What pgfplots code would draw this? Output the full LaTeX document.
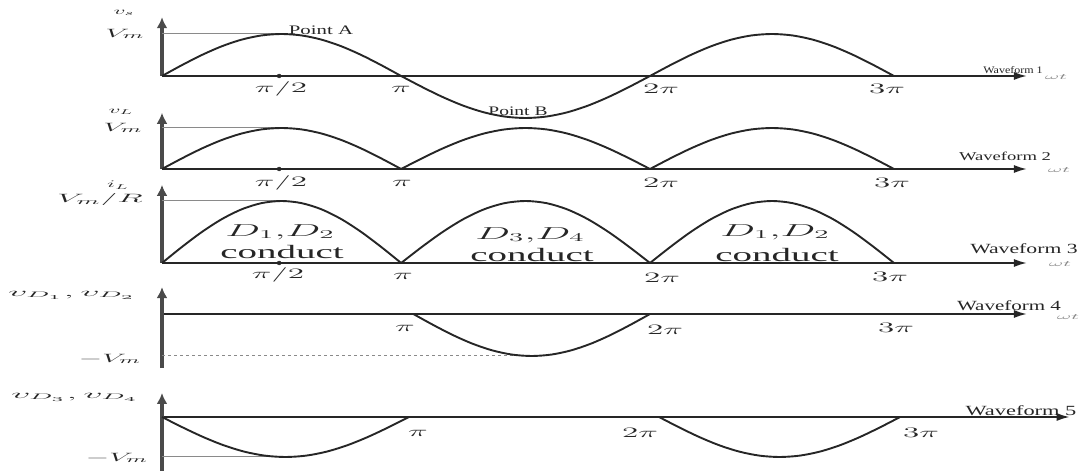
\documentclass[border=0pt]{standalone}
\usepackage{pgfplots}
\pgfplotsset{compat=1.18}
\usepackage{pgfplotstable}
\usepackage{fontspec}
\setmainfont{Liberation Serif}
\usetikzlibrary{arrows.meta}
\definecolor{ink}{HTML}{262626}
\definecolor{axisgray}{HTML}{4A4A4A}
\definecolor{thinln}{HTML}{8A8A8A}
\newcommand{\fs}[1]{\fontsize{#1}{#1}\selectfont}

\pgfplotstableread{
x y
0 0
0.08333 0.25882
0.16667 0.5
0.25 0.70711
0.33333 0.86603
0.41667 0.96593
0.5 1
0.58333 0.96593
0.66667 0.86603
0.75 0.70711
0.83333 0.5
0.91667 0.25882
1 0
}\halfwave

\pgfplotsset{
  wave/.style={
    x=244pt, clip=false, anchor=origin, xmin=0, enlargelimits=false,
    hide axis, xtick=\empty, ytick=\empty,
  },
  curve/.style={ink, line width=1.9pt, smooth, no markers},
  ref/.style={thinln, line width=1pt, no markers},
  refd/.style={thinln, line width=1pt, dashed, no markers},
  dot/.style={ink, only marks, mark=*, mark size=2pt},
  yax/.style={axisgray, line width=3.4pt, -{Latex[length=11pt,width=11pt]}, no markers},
  xax/.style={ink, line width=1.8pt, -{Latex[length=13pt,width=8pt]}, no markers},
}
\tikzset{lb/.style={inner sep=0pt, text=ink}}

\begin{document}
\begin{tikzpicture}
\path[use as bounding box] (0pt,0pt) rectangle (1085pt,471pt);

% ---------- Waveform 1 ----------
\begin{axis}[wave, at={(162pt,395pt)}, y=42pt, ymin=0, ymax=1.40, xmax=3.545]
  \addplot[xax] coordinates {(0,0) (3.545,0)};
  \addplot[yax] coordinates {(0,0) (0,1.40)};
  \addplot[ref] coordinates {(0,1) (0.49,1)};
  \addplot[curve] table[x expr={0.98*\thisrow{x}}, y=y] {\halfwave};
  \addplot[curve] table[x expr={0.98+1.02*\thisrow{x}}, y expr={-\thisrow{y}}] {\halfwave};
  \addplot[curve] table[x expr={2.0+1.0*\thisrow{x}}, y=y] {\halfwave};
  \addplot[dot] coordinates {(0.48,0)};
\end{axis}
\node[lb,font=\fs{10},xscale=2.3] at (124pt,458pt) {$v_s$};
\node[lb,font=\fs{13},xscale=2.5] at (125pt,437pt) {$V_m$};
\node[lb,font=\fs{13},xscale=1.6] at (321pt,441pt) {Point A};
\node[lb,font=\fs{13},xscale=1.5] at (518pt,360pt) {Point B};
\node[lb,font=\fs{14},xscale=2.3] at (281pt,382pt) {$\pi/2$};
\node[lb,font=\fs{14},xscale=2.3] at (401pt,382pt) {$\pi$};
\node[lb,font=\fs{14},xscale=2.3] at (661pt,382pt) {$2\pi$};
\node[lb,font=\fs{14},xscale=2.3] at (887pt,382pt) {$3\pi$};
\node[lb,font=\fs{10},xscale=1.2] at (1013pt,401pt) {Waveform 1};
\node[lb,font=\fs{8},xscale=2.6,text=thinln] at (1056pt,394pt) {$\omega t$};

% ---------- Waveform 2 ----------
\begin{axis}[wave, at={(162pt,302pt)}, y=41pt, ymin=0, ymax=1.37, xmax=3.545]
  \addplot[xax] coordinates {(0,0) (3.545,0)};
  \addplot[yax] coordinates {(0,0) (0,1.37)};
  \addplot[ref] coordinates {(0,1) (0.49,1)};
  \addplot[curve] table[x expr={0.98*\thisrow{x}}, y=y] {\halfwave};
  \addplot[curve] table[x expr={0.98+1.02*\thisrow{x}}, y=y] {\halfwave};
  \addplot[curve] table[x expr={2.0+1.0*\thisrow{x}}, y=y] {\halfwave};
  \addplot[dot] coordinates {(0.48,0)};
\end{axis}
\node[lb,font=\fs{10},xscale=2.3] at (121pt,359pt) {$v_L$};
\node[lb,font=\fs{13},xscale=2.5] at (123pt,343pt) {$V_m$};
\node[lb,font=\fs{14},xscale=2.3] at (281pt,288pt) {$\pi/2$};
\node[lb,font=\fs{14},xscale=2.3] at (402pt,288pt) {$\pi$};
\node[lb,font=\fs{14},xscale=2.3] at (661pt,288pt) {$2\pi$};
\node[lb,font=\fs{14},xscale=2.3] at (892pt,288pt) {$3\pi$};
\node[lb,font=\fs{12},xscale=1.55] at (1005pt,315pt) {Waveform 2};
\node[lb,font=\fs{8},xscale=2.6,text=thinln] at (1059pt,301pt) {$\omega t$};

% ---------- Waveform 3 ----------
\begin{axis}[wave, at={(162pt,208pt)}, y=62pt, ymin=0, ymax=1.26, xmax=3.545]
  \addplot[xax] coordinates {(0,0) (3.545,0)};
  \addplot[yax] coordinates {(0,0) (0,1.26)};
  \addplot[ref] coordinates {(0,1) (0.49,1)};
  \addplot[curve] table[x expr={0.98*\thisrow{x}}, y=y] {\halfwave};
  \addplot[curve] table[x expr={0.98+1.02*\thisrow{x}}, y=y] {\halfwave};
  \addplot[curve] table[x expr={2.0+1.0*\thisrow{x}}, y=y] {\halfwave};
  \addplot[dot] coordinates {(0.48,0)};
\end{axis}
\node[lb,font=\fs{10},xscale=2.3] at (118pt,286pt) {$i_L$};
\node[lb,font=\fs{13},xscale=2.8] at (100pt,271pt) {$V_m/R$};
\node[lb,font=\fs{17},xscale=2.4] at (280pt,239pt) {$D_1{,}D_2$};
\node[lb,font=\fs{19},xscale=2.05] at (282pt,219pt) {conduct};
\node[lb,font=\fs{17},xscale=2.4] at (530pt,236pt) {$D_3{,}D_4$};
\node[lb,font=\fs{19},xscale=2.05] at (532pt,216pt) {conduct};
\node[lb,font=\fs{17},xscale=2.4] at (775pt,239pt) {$D_1{,}D_2$};
\node[lb,font=\fs{19},xscale=2.05] at (777pt,216pt) {conduct};
\node[lb,font=\fs{14},xscale=2.3] at (278pt,196pt) {$\pi/2$};
\node[lb,font=\fs{14},xscale=2.3] at (403pt,195pt) {$\pi$};
\node[lb,font=\fs{14},xscale=2.3] at (662pt,193pt) {$2\pi$};
\node[lb,font=\fs{14},xscale=2.3] at (890pt,194pt) {$3\pi$};
\node[lb,font=\fs{14},xscale=1.55] at (1024pt,222pt) {Waveform 3};
\node[lb,font=\fs{8},xscale=2.6,text=thinln] at (1060pt,207pt) {$\omega t$};

% ---------- Waveform 4 ----------
\begin{axis}[wave, at={(162pt,157pt)}, y=42pt, ymin=-1.29, ymax=0.64, xmax=3.545]
  \addplot[xax] coordinates {(0,0) (3.545,0)};
  \addplot[yax] coordinates {(0,-1.29) (0,0.64)};
  \addplot[refd] coordinates {(0,-1) (1.51,-1)};
  \addplot[curve] table[x expr={1.03+0.97*\thisrow{x}}, y expr={-\thisrow{y}}] {\halfwave};
\end{axis}
\node[lb,font=\fs{12},xscale=3.2] at (72pt,176pt) {$v_{D_1}{,}\,v_{D_2}$};
\node[lb,font=\fs{13},xscale=2.5] at (110pt,112pt) {$-V_m$};
\node[lb,font=\fs{14},xscale=2.3] at (405pt,143pt) {$\pi$};
\node[lb,font=\fs{14},xscale=2.3] at (665pt,141pt) {$2\pi$};
\node[lb,font=\fs{14},xscale=2.3] at (896pt,143pt) {$3\pi$};
\node[lb,font=\fs{14},xscale=1.5] at (1009pt,165pt) {Waveform 4};
\node[lb,font=\fs{8},xscale=2.6,text=thinln] at (1068pt,154pt) {$\omega t$};

% ---------- Waveform 5 ----------
\begin{axis}[wave, at={(162pt,54pt)}, y=40pt, ymin=-1.35, ymax=0.60, xmax=3.72]
  \addplot[xax] coordinates {(0,0) (3.72,0)};
  \addplot[yax] coordinates {(0,-1.35) (0,0.60)};
  \addplot[ref] coordinates {(0,-1) (0.52,-1)};
  \addplot[curve] table[x expr={1.012*\thisrow{x}}, y expr={-\thisrow{y}}] {\halfwave};
  \addplot[curve] table[x expr={2.037+0.988*\thisrow{x}}, y expr={-\thisrow{y}}] {\halfwave};
\end{axis}
\node[lb,font=\fs{12},xscale=3.2] at (75pt,74pt) {$v_{D_3}{,}\,v_{D_4}$};
\node[lb,font=\fs{13},xscale=2.5] at (117pt,13pt) {$-V_m$};
\node[lb,font=\fs{14},xscale=2.3] at (418pt,38pt) {$\pi$};
\node[lb,font=\fs{14},xscale=2.3] at (640pt,38pt) {$2\pi$};
\node[lb,font=\fs{14},xscale=2.3] at (921pt,38pt) {$3\pi$};
\node[lb,font=\fs{14},xscale=1.6] at (1021pt,60pt) {Waveform 5};
\end{tikzpicture}
\end{document}
